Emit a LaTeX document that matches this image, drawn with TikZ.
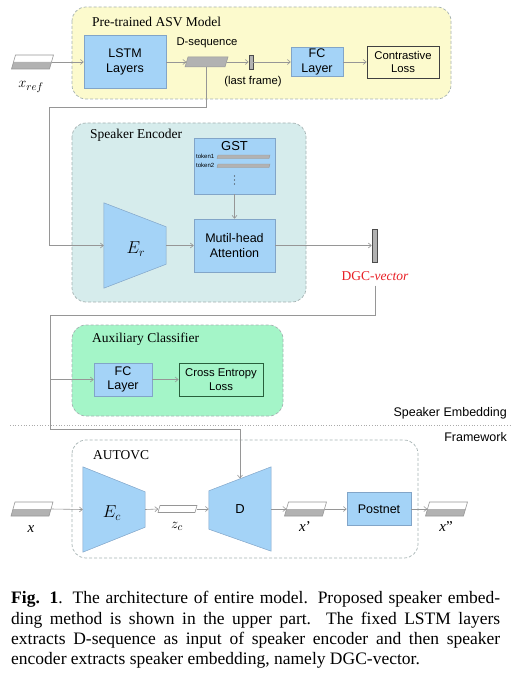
\documentclass[tikz,border=0pt]{standalone}
\usepackage{fontspec}
\setmainfont{Liberation Serif}
\setsansfont{Liberation Sans}
\usetikzlibrary{arrows.meta,calc}
\definecolor{cblue}{RGB}{164,211,247}
\definecolor{bbord}{RGB}{130,165,200}
\definecolor{ybg}{RGB}{252,250,205}
\definecolor{tbg}{RGB}{214,236,236}
\definecolor{gbg}{RGB}{164,245,200}
\definecolor{grpc}{RGB}{165,178,178}
\definecolor{lc}{RGB}{150,150,150}
\definecolor{sgray}{RGB}{178,178,178}
\definecolor{dred}{RGB}{232,30,36}
\definecolor{cegreen}{RGB}{40,95,60}
\newcommand\specblk[3]{%
  \fill[white] (#2-17,#3-7) -- (#2+21,#3-7) -- (#2+19,#3) -- (#2-19,#3) -- cycle;
  \fill[sgray] (#2-19,#3) -- (#2+19,#3) -- (#2+17,#3+7) -- (#2-21,#3+7) -- cycle;
  \draw[lc, line width=0.6pt] (#2-17,#3-7) -- (#2+21,#3-7) -- (#2+17,#3+7) -- (#2-21,#3+7) -- cycle;
  \node[inner sep=0, minimum width=38pt, minimum height=14pt] (#1) at (#2,#3) {};}
\begin{document}
\begin{tikzpicture}[x=1pt,y=-1pt,
  grp/.style={draw=grpc, dash pattern=on 3pt off 2pt, rounded corners=14pt, line width=0.7pt},
  bbox/.style={draw=bbord, fill=cblue, line width=0.5pt, inner sep=0, align=center,
    font=\sffamily\fontsize{12.5}{14.5}\selectfont},
  lossbox/.style={line width=0.8pt, inner sep=0, align=center,
    font=\sffamily\fontsize{11.3}{13.5}\selectfont},
  arr/.style={draw=lc, line width=0.6pt, -{Straight Barb[length=3pt,width=5pt]}},
  ln/.style={draw=lc, line width=0.6pt},
  ttl/.style={anchor=west, inner sep=0, font=\fontsize{13.5}{15}\selectfont},
  lbl/.style={inner sep=0, font=\sffamily\fontsize{11.3}{13}\selectfont},
  sect/.style={anchor=east, inner sep=0, font=\sffamily\fontsize{12.5}{14}\selectfont},
  mlbl/.style={inner sep=0, font=\fontsize{15}{17}\selectfont},
  captxt/.style={anchor=base west, inner sep=0, font=\fontsize{17.5}{20}\selectfont},
  ghost/.style={inner sep=0}
]
\useasboundingbox (0,0) rectangle (521,682);

% ---------- group boxes ----------
\path[grp, fill=ybg] (72,7) rectangle (451,99);
\path[grp, fill=tbg] (72,123) rectangle (306,302);
\path[grp, fill=gbg] (72,325) rectangle (283,416);
\path[grp] (72,440) rectangle (418,558);

\node[ttl] (t1) at (92,22) {Pre-trained ASV Model};
\node[ttl] (t2) at (90,135) {Speaker Encoder};
\node[ttl] (t3) at (92,339) {Auxiliary Classifier};
\node[ttl] (t4) at (93,455) {AUTOVC};

% ---------- ASV row ----------
\specblk{xref}{32.5}{62}
\node[mlbl] (xreflab) at (31,87) {$x_{ref}$};
\node[bbox, minimum width=82pt, minimum height=53pt] (lstm) at (125,62) {LSTM\\Layers};
\fill[sgray] (188,57) -- (228,57) -- (225,67) -- (185,67) -- cycle;
\draw[lc, line width=0.5pt] (188,57) -- (228,57) -- (225,67) -- (185,67) -- cycle;
\node[ghost, minimum width=40pt, minimum height=10pt] (dseq) at (206.5,62) {};
\node[lbl] (dseqlab) at (207,43) {D-sequence};
\node[draw=black!70, fill=sgray, line width=0.6pt, inner sep=0, minimum width=4pt, minimum height=14pt] (lastf) at (251,62) {};
\node[lbl] (lastlab) at (253,82) {(last frame)};
\node[bbox, minimum width=52pt, minimum height=29pt] (fc1) at (317,62) {FC\\Layer};
\node[lossbox, draw=black!75, minimum width=72pt, minimum height=32pt] (cl) at (403,62) {Contrastive\\Loss};

\draw[arr] (xref.east) -- (lstm.west);
\draw[arr] (lstm.east) -- (dseq.west);
\draw[arr] (dseq.east) -- (lastf.west);
\draw[arr] (lastf.east) -- (fc1.west);
\draw[arr] (fc1.east) -- (cl.west);

% ---------- Speaker encoder ----------
\node[bbox, minimum width=81pt, minimum height=56pt] (gst) at (234.5,166) {};
\node[inner sep=0, font=\sffamily\fontsize{13}{15}\selectfont] (gsttxt) at (234.5,146) {GST};
\node[inner sep=0, anchor=west, font=\sffamily\fontsize{6}{7}\selectfont] (tok1) at (196,156.5) {token1};
\node[inner sep=0, anchor=west, font=\sffamily\fontsize{6}{7}\selectfont] (tok2) at (196,165.5) {token2};
\draw[lc, fill=sgray, line width=0.4pt] (218,155) -- (270,155) -- (269,158.5) -- (217,158.5) -- cycle;
\draw[lc, fill=sgray, line width=0.4pt] (218,164) -- (270,164) -- (269,167.5) -- (217,167.5) -- cycle;
\fill[black!80] (234.5,176) circle (0.7) (234.5,180) circle (0.7) (234.5,184) circle (0.7);
\node[bbox, minimum width=81pt, minimum height=53pt] (att) at (234.5,245.5) {Mutil-head\\Attention};

\node[ghost, minimum width=62pt, minimum height=85pt] (er) at (135,245.5) {};
\draw[bbord, fill=cblue, line width=0.5pt] (er.north west) -- ($(er.north east)+(0,24)$) -- ($(er.south east)+(0,-24)$) -- (er.south west) -- cycle;
\node[inner sep=0, font=\fontsize{17}{19}\selectfont] (erlab) at (136,249) {$E_r$};

\node[draw=black!70, fill=sgray, line width=0.6pt, inner sep=0, minimum width=5pt, minimum height=33pt] (dgc) at (374.5,245.5) {};
\node[inner sep=0, text=dred, font=\fontsize{13.5}{15}\selectfont] (dgclab) at (375,276) {DGC-\textit{vector}};

\coordinate (j1) at (49,107);
\draw[arr] (dseq.south) |- (j1) |- (er.west);
\draw[arr] (er.east) -- (att.west);
\draw[arr] (gst.south) -- (att.north);
\draw[arr] (att.east) -- (dgc.west);

% ---------- Auxiliary classifier ----------
\node[bbox, minimum width=58pt, minimum height=33pt] (fc2) at (123,379.5) {FC\\Layer};
\node[lossbox, draw=cegreen, minimum width=84pt, minimum height=33pt] (ce) at (221,379.5) {Cross Entropy\\Loss};
\draw[arr] (fc2.east) -- (ce.west);

% ---------- separator ----------
\node[sect] (se) at (507,413) {Speaker Embedding};
\node[sect] (fw) at (507,437) {Framework};
\draw[lc!80, dotted, line width=0.7pt] (10,425) -- (510,425);

% ---------- AUTOVC row ----------
\specblk{xin}{32}{509}
\node[mlbl] (xlab) at (31,529) {\textit{x}};
\node[ghost, minimum width=62pt, minimum height=85pt] (ec) at (114,509.5) {};
\draw[bbord, fill=cblue, line width=0.5pt] (ec.north west) -- ($(ec.north east)+(0,25)$) -- ($(ec.south east)+(0,-25)$) -- (ec.south west) -- cycle;
\node[inner sep=0, font=\fontsize{17}{19}\selectfont] (eclab) at (112,513) {$E_c$};
\draw[lc, fill=white, line width=0.6pt] (160,505.5) -- (197,505.5) -- (195,512.5) -- (158,512.5) -- cycle;
\node[ghost, minimum width=38pt, minimum height=7pt] (zc) at (177.5,509) {};
\node[mlbl] (zclab) at (177,526) {$z_c$};
\node[ghost, minimum width=62pt, minimum height=84pt] (dd) at (240,509) {};
\draw[bbord, fill=cblue, line width=0.5pt] ($(dd.north west)+(0,24)$) -- (dd.north east) -- (dd.south east) -- ($(dd.south west)+(0,-22)$) -- cycle;
\node[inner sep=0, font=\sffamily\fontsize{13}{15}\selectfont] (ddlab) at (240,509) {D};
\coordinate (dtop) at (240,478.5);
\specblk{xp}{305.5}{509}
\node[mlbl] (xplab) at (305,527) {\textit{x}’};
\node[bbox, minimum width=64pt, minimum height=33pt] (post) at (379,509) {Postnet};
\specblk{xpp}{446.5}{509}
\node[mlbl] (xpplab) at (446,527) {\textit{x}”};

\draw[arr] (xin.east) -- (ec.west);
\draw[arr] (ec.east) -- (zc.west);
\draw[arr] (zc.east) -- (dd.west);
\draw[arr] (dd.east) -- (xp.west);
\draw[arr] (xp.east) -- (post.west);
\draw[arr] (post.east) -- (xpp.west);

% ---------- DGC-vector feed ----------
\coordinate (j2) at (50,315);
\coordinate (j3) at (240,429);
\draw[arr] ($(dgclab.south)+(0,5)$) |- (j2) |- (j3) -- (dtop);
\draw[arr] (j2 |- fc2.west) -- (fc2.west);

% ---------- caption ----------
\node[captxt] (c1) at (11,603) {\makebox[489pt][s]{\textbf{Fig. 1}. The architecture of entire model. Proposed speaker embed-}};
\node[captxt] (c2) at (11,624) {\makebox[489pt][s]{ding method is shown in the upper part.\ \ The fixed LSTM layers}};
\node[captxt] (c3) at (11,644) {\makebox[489pt][s]{extracts D-sequence as input of speaker encoder and then speaker}};
\node[captxt] (c4) at (11,664) {encoder extracts speaker embedding, namely DGC-vector.};
\end{tikzpicture}
\end{document}
